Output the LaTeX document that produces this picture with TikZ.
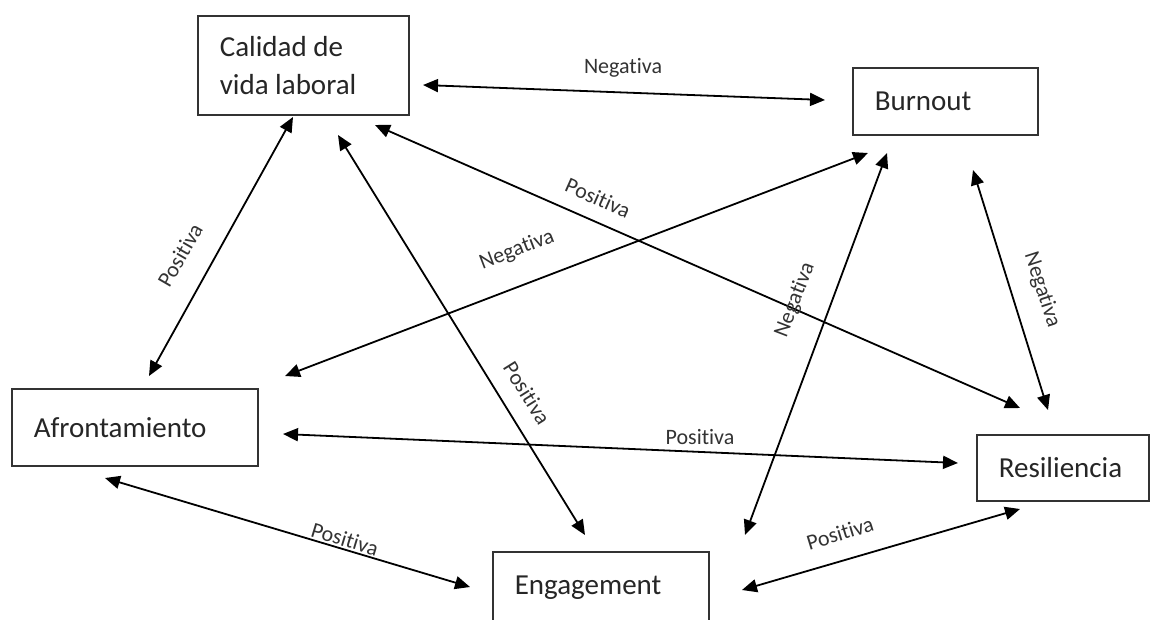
\documentclass[tikz,border=0pt]{standalone}
\usepackage{fontspec}
\setmainfont{Carlito}[Ligatures=NoCommon]
\usetikzlibrary{arrows.meta}
\begin{document}
\begin{tikzpicture}[x=1pt,y=-1pt,
  box/.style={draw=black!80, line width=1.6pt, rectangle, anchor=north west,
    inner xsep=22pt, inner ysep=0pt, align=flush left,
    font=\fontsize{29}{38}\selectfont, text=black!85},
  link/.style={line width=1.8pt,
    {Triangle[length=15pt,width=13pt]}-{Triangle[length=15pt,width=13pt]}},
  lbl/.style={font=\fontsize{22}{26}\selectfont, text=black!80, inner sep=0pt}]
\clip (0,0) rectangle (1150,619);
\fill[white] (0,0) rectangle (1150,619);

% concepts
\node[box, text width=167pt, minimum height=99pt] (cal) at (197,15) {Calidad de\\vida laboral};
\node[box, text width=141pt, minimum height=67pt] (bur) at (852,67) {Burnout};
\node[box, text width=202pt, minimum height=77pt] (afr) at (11,388) {Afrontamiento};
\node[box, text width=128pt, minimum height=66pt] (res) at (976,434) {Resiliencia};
\node[box, text width=172pt, minimum height=72pt] (eng) at (492,551) {Engagement};

% arrow ends near each box
\coordinate (cal-b) at (423,85);
\coordinate (cal-a) at (293,117);
\coordinate (cal-r) at (375,125);
\coordinate (cal-e) at (338,135);
\coordinate (bur-c) at (825,100);
\coordinate (bur-a) at (868,153);
\coordinate (bur-e) at (887,153);
\coordinate (bur-r) at (973,170);
\coordinate (afr-c) at (149,376);
\coordinate (afr-b) at (285,376);
\coordinate (afr-r) at (283,434);
\coordinate (afr-e) at (105,478);
\coordinate (res-c) at (1020,408);
\coordinate (res-b) at (1048,410);
\coordinate (res-a) at (958,463);
\coordinate (res-e) at (1020,509);
\coordinate (eng-c) at (585,535);
\coordinate (eng-b) at (745,535);
\coordinate (eng-a) at (470,587);
\coordinate (eng-r) at (742,590);

% relations
\draw[link] (cal-b) -- (bur-c);
\draw[link] (cal-a) -- (afr-c);
\draw[link] (cal-r) -- (res-c);
\draw[link] (cal-e) -- (eng-c);
\draw[link] (bur-a) -- (afr-b);
\draw[link] (bur-e) -- (eng-b);
\draw[link] (bur-r) -- (res-b);
\draw[link] (afr-r) -- (res-a);
\draw[link] (afr-e) -- (eng-a);
\draw[link] (eng-r) -- (res-e);

% relation labels
\node[lbl] (l-cb) at (623,68) {Negativa};
\node[lbl, rotate=60] (l-ca) at (180,255) {Positiva};
\node[lbl, rotate=-24] (l-cr) at (598,198) {Positiva};
\node[lbl, rotate=-58] (l-ce) at (527,393) {Positiva};
\node[lbl, rotate=21] (l-ba) at (517,250) {Negativa};
\node[lbl, rotate=69] (l-be) at (795,300) {Negativa};
\node[lbl, rotate=-72] (l-br) at (1042,290) {Negativa};
\node[lbl] (l-ar) at (700,437) {Positiva};
\node[lbl, rotate=-17] (l-ae) at (345,539) {Positiva};
\node[lbl, rotate=17] (l-er) at (840,533) {Positiva};
\end{tikzpicture}
\end{document}
